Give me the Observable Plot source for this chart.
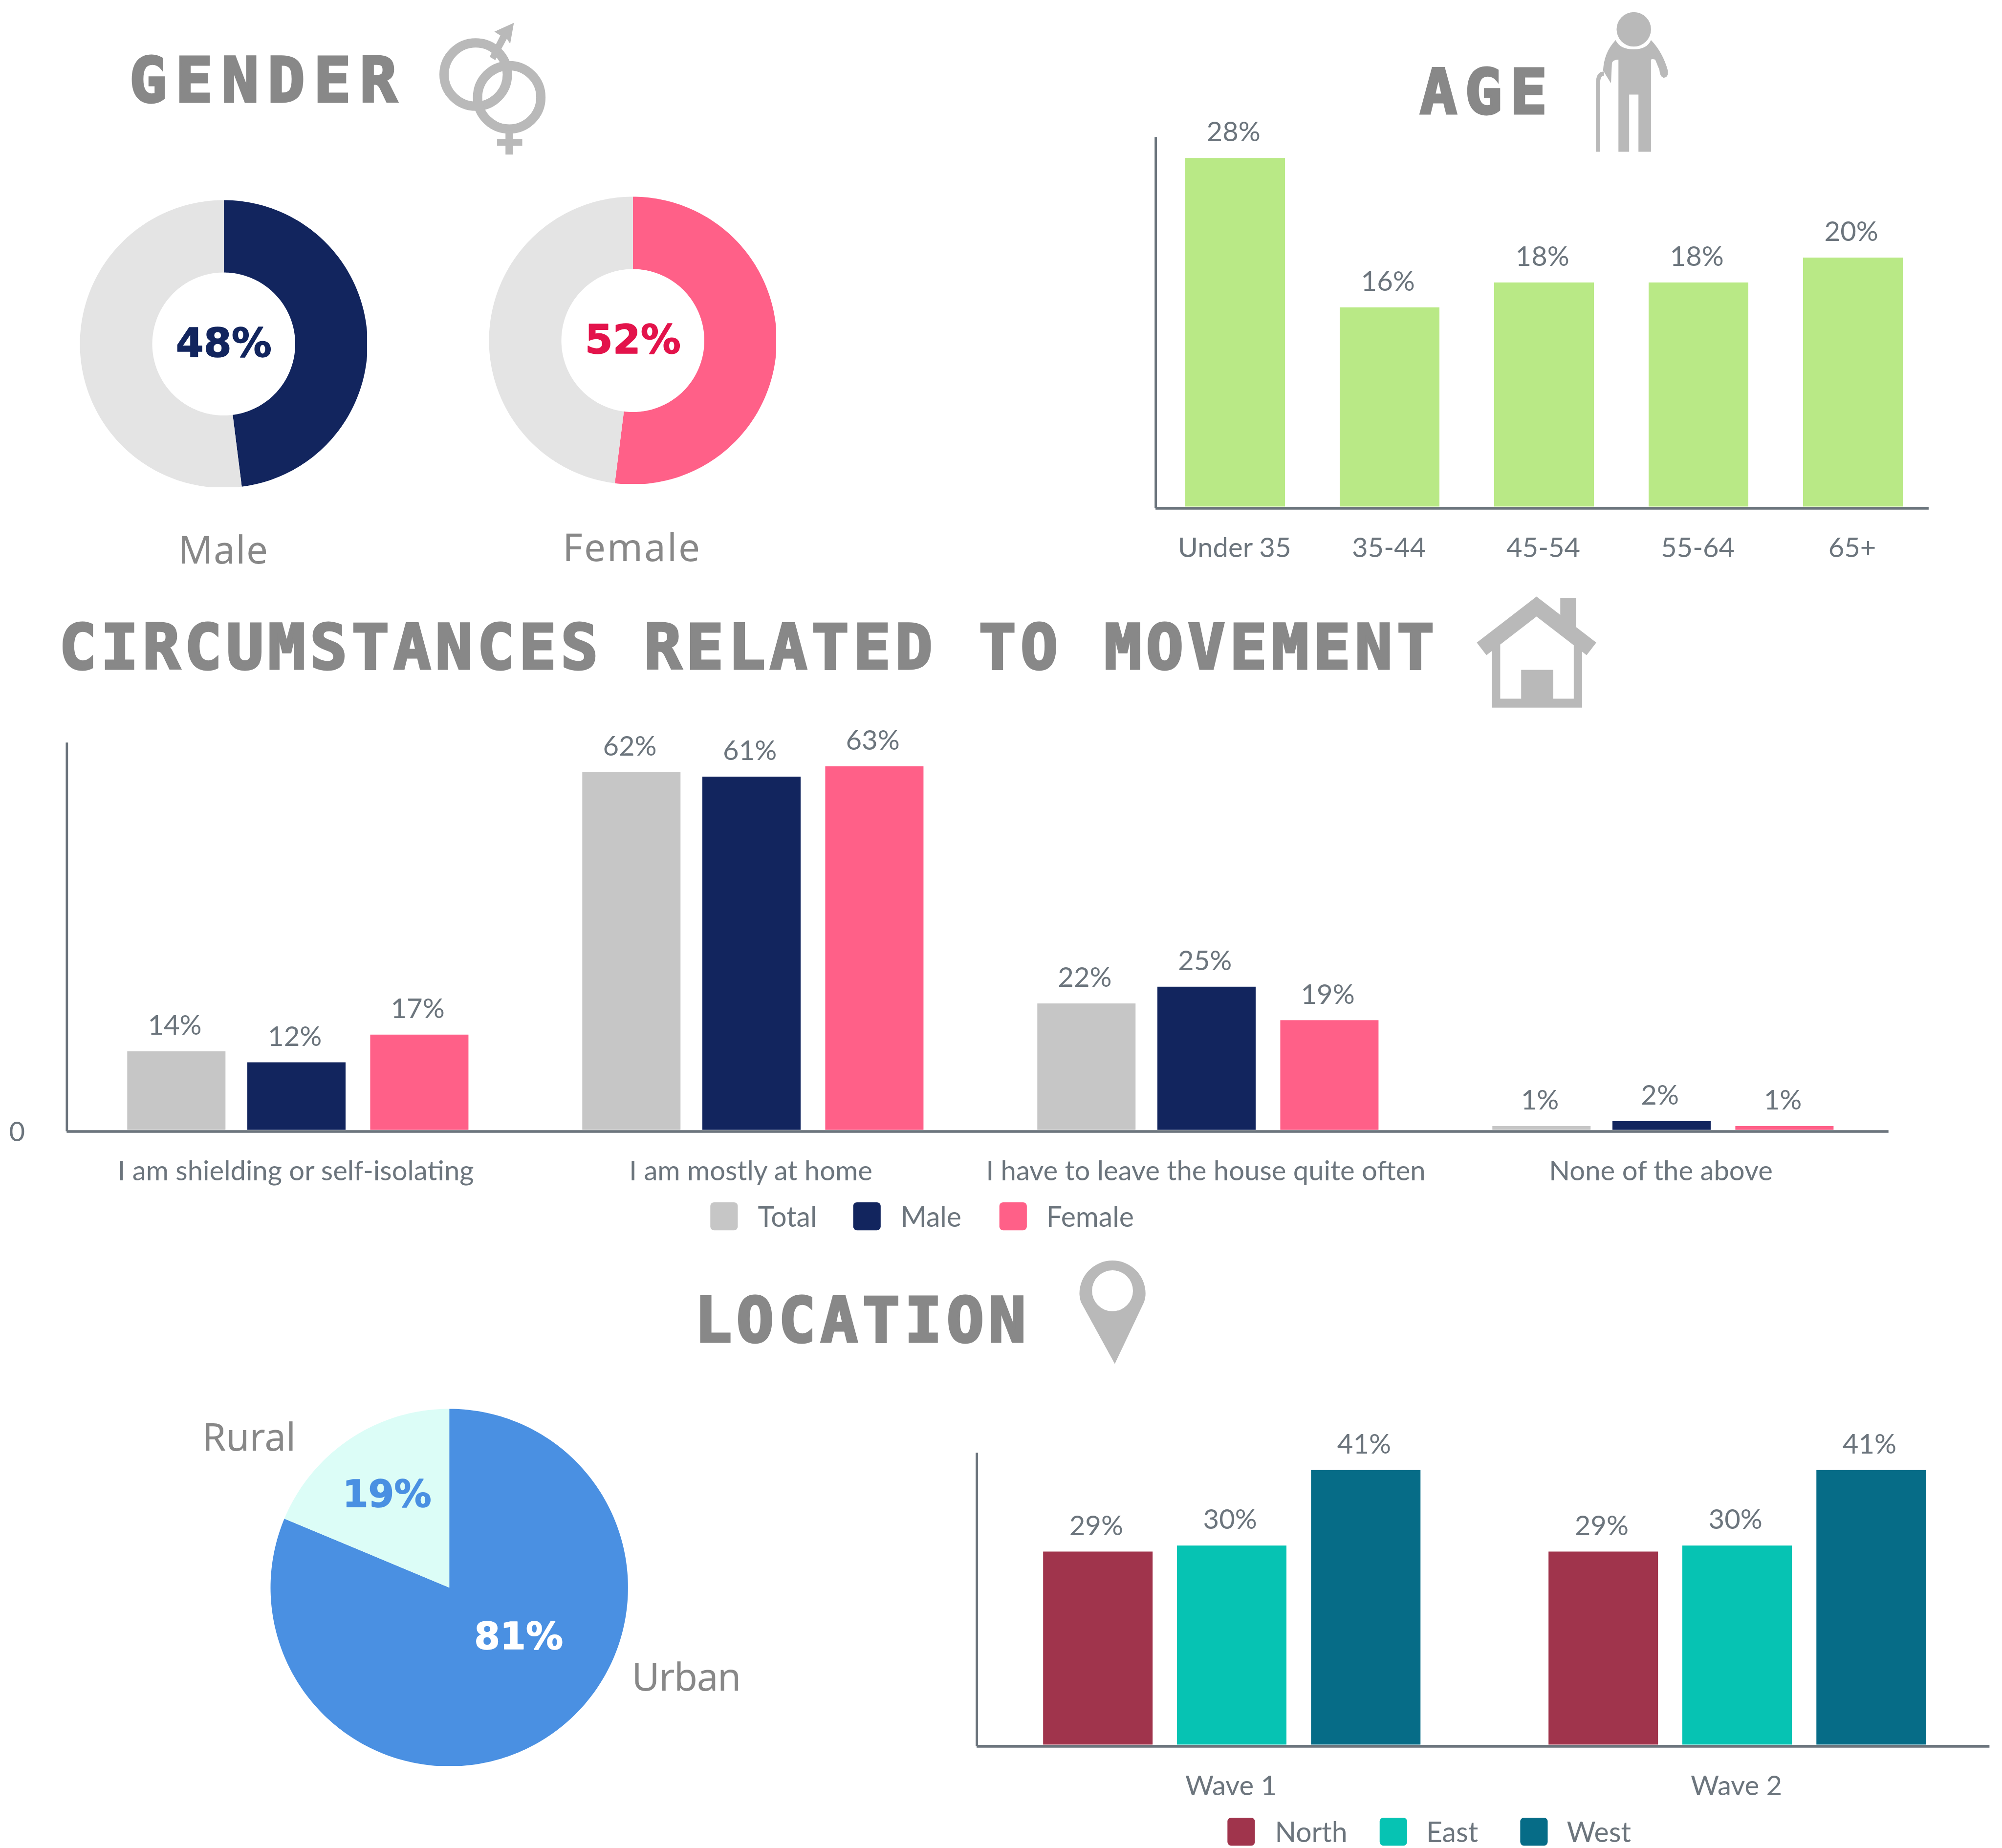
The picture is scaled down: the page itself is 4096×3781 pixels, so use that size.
<!DOCTYPE html>
<html><head><meta charset="utf-8">
<style>
html,body{margin:0;padding:0;background:#fff;width:4096px;height:3781px;overflow:hidden}
#page{position:relative;width:4096px;height:3781px;background:#fff}
#page>div{position:absolute}
#overlay{position:absolute;left:0;top:0}
</style>
<script src="https://cdn.jsdelivr.net/npm/d3@7"></script>
<script src="https://cdn.jsdelivr.net/npm/@observablehq/plot@0.6"></script>
</head><body><div id="page"></div>
<script>
// ---- data ----
const genderNames = ["Male", "Female"];
const genderValues = [48, 52];
const genderColors = ["#12255e", "#ff6088"];
const genderTextColors = ["#12255e", "#e3134b"];
const ageGroups = ["Under 35", "35-44", "45-54", "55-64", "65+"];
const ageValues = [28, 16, 18, 18, 20];
const moveGroups = ["I am shielding or self-isolating", "I am mostly at home", "I have to leave the house quite often", "None of the above"];
const moveSeries = ["Total", "Male", "Female"];
const moveTotal = [13.6, 62, 21.9, 0.65];
const moveMale = [11.7, 61.2, 24.8, 1.5];
const moveFemale = [16.5, 63, 19, 0.65];
const moveColors = ["#c6c6c6", "#12255e", "#ff6088"];
const locationNames = ["Urban", "Rural"];
const locationValues = [81.3, 18.7];
const locationColors = ["#4a90e2", "#dcfdf7"];
const waveGroups = ["Wave 1", "Wave 2"];
const waveSeries = ["North", "East", "West"];
const waveNorth = [28.9, 28.9];
const waveEast = [29.8, 29.8];
const waveWest = [41.1, 41.1];
const waveColors = ["#a0344c", "#06c3b3", "#066c87"];

// ---- layout helpers (reference pixels are scaled to the window) ----
const s = 4096 / 4301, px = v => v * s;
const page = document.getElementById("page");
const AXIS = "#6c757d", TEXT = "#6c757d", TITLE = "#888888", ICON = "#b9b9b9";
const LABEL = 56.2;

function place(node, left, top) {
  const d = document.createElement("div");
  d.style.left = px(left) + "px"; d.style.top = px(top) + "px";
  d.appendChild(node); page.appendChild(d);
}

function barChart({groups, series, columns, colors, offsets, frame, bar, gaps, step, yMax, zero}) {
  const [L, R, T, B] = frame, mL = zero ? 140 : 40, mR = 30, mT = 100, mB = 140;
  const rows = series.flatMap((name, i) => groups.map((g, j) => ({group: g, name, value: columns[i][j], i})));
  const marks = [];
  series.forEach((name, i) => {
    const part = rows.filter(r => r.i === i), dx = px(offsets[i]);
    marks.push(Plot.barY(part, {x: "group", y: "value", fill: "name", dx}));
    marks.push(Plot.text(part, {x: "group", y: "value", text: d => Math.round(d.value) + "%", dx: dx - px(4), dy: -px(36),
      lineAnchor: "bottom", fontSize: LABEL, fill: TEXT}));
  });
  marks.push(Plot.ruleY([0], {stroke: AXIS, strokeWidth: px(6), dy: px(3)}));
  marks.push(Plot.frame({anchor: "left", stroke: AXIS, strokeWidth: px(5)}));
  marks.push(Plot.axisX({tickSize: 0, tickPadding: px(66), fontSize: LABEL, fill: TEXT, label: null, dx: -px(2)}));
  if (zero) marks.push(Plot.axisY({ticks: [0], tickSize: 0, tickPadding: px(90), fontSize: LABEL, fill: TEXT, label: null, dy: px(5)}));
  const plot = Plot.plot({
    width: px(R - L + mL + mR), height: px(B - T + mT + mB),
    marginLeft: px(mL), marginRight: px(mR), marginTop: px(mT), marginBottom: px(mB),
    style: {background: "transparent", fontFamily: "Lato", maxWidth: "none"},
    x: {domain: groups, label: null, paddingInner: 1 - bar / step, paddingOuter: (gaps[0] + gaps[1]) / 2 / step, align: gaps[0] / (gaps[0] + gaps[1])},
    y: {domain: [0, yMax], label: null, axis: zero ? undefined : null},
    color: {domain: series, range: colors},
    marks
  });
  place(plot, L - mL, T - mT);
}

// one wedge of a ring as a closed outline, angles clockwise from twelve o'clock, in percent
function wedge(name, from, to, inner, outer) {
  const pts = [], n = Math.ceil((to - from) * 3);
  for (let k = 0; k <= n; k++) {
    const a = (from + (to - from) * k / n) / 100 * 2 * Math.PI;
    pts.push({name, x: outer * Math.sin(a), y: outer * Math.cos(a)});
  }
  for (let k = n; k >= 0 && inner > 0; k--) {
    const a = (from + (to - from) * k / n) / 100 * 2 * Math.PI;
    pts.push({name, x: inner * Math.sin(a), y: inner * Math.cos(a)});
  }
  if (inner === 0) pts.push({name, x: 0, y: 0});
  return pts;
}

function ringChart({pts, domain, range, cx, cy, r, labels}) {
  const plot = Plot.plot({
    width: px(2 * r), height: px(2 * r), margin: 0,
    style: {background: "transparent", maxWidth: "none"},
    x: {domain: [-1, 1], axis: null}, y: {domain: [-1, 1], axis: null},
    color: {domain, range},
    marks: [
      Plot.line(pts, {x: "x", y: "y", z: "name", fill: "name", stroke: "none"}),
      ...labels.map(l => Plot.text([l.text], {x: () => 0, y: () => 0, text: d => d, dx: px(l.dx), dy: px(l.dy),
        fontFamily: "DejaVu Sans", fontWeight: "bold", fontSize: l.size, fill: l.fill, stroke: l.fill, strokeWidth: 1.5}))
    ]
  });
  place(plot, cx - r, cy - r);
}

// ---- gender ----
const donutGeo = [{cx: 480, cy: 738, r: 309}, {cx: 1359, cy: 731, r: 309}];
genderNames.forEach((name, i) => {
  ringChart({
    pts: [...wedge(name, 0, genderValues[i], 0.497, 1), ...wedge("rest", genderValues[i], 100, 0.497, 1)],
    domain: [name, "rest"], range: [genderColors[i], "#e4e4e4"],
    ...donutGeo[i],
    labels: [{text: genderValues[i] + "%", dx: 0, dy: 0, size: 82, fill: genderTextColors[i]}]
  });
});

// ---- age ----
barChart({groups: ageGroups, series: ["Share"], columns: [ageValues], colors: ["#b9e986"], offsets: [0],
  frame: [2482, 4143, 296, 1088], bar: 215, gaps: [62, 53], step: 332.3, yMax: 792 / 26.75});

// ---- movement ----
barChart({groups: moveGroups, series: moveSeries, columns: [moveTotal, moveMale, moveFemale], colors: moveColors,
  offsets: [-258, 0, 264], frame: [143, 4057, 1597, 2427], bar: 211, gaps: [387, 382], step: 978.3, yMax: 830 / 12.4, zero: true});

// ---- location ----
ringChart({
  pts: [...wedge(locationNames[0], 0, locationValues[0], 0, 1), ...wedge(locationNames[1], locationValues[0], 100, 0, 1)],
  domain: locationNames, range: locationColors, cx: 965, cy: 3410, r: 384,
  labels: [
    {text: Math.round(locationValues[0]) + "%", dx: 149, dy: 107, size: 76, fill: "#ffffff"},
    {text: Math.round(locationValues[1]) + "%", dx: -134, dy: -199, size: 76, fill: locationColors[0]}
  ]
});
barChart({groups: waveGroups, series: waveSeries, columns: [waveNorth, waveEast, waveWest], colors: waveColors,
  offsets: [-287.5, 0, 288], frame: [2098, 4274, 3123, 3748], bar: 235.5, gaps: [430, 424], step: 1086, yMax: 625 / 14.35});

// ---- titles, labels, legends and icons, in reference pixels ----
const svg = d3.create("svg").attr("id", "overlay").attr("width", 4096).attr("height", 3781).attr("viewBox", "0 0 4301 3970");
function title(t, x, w, base) {
  svg.append("text").text(t).attr("x", x).attr("y", base).attr("textLength", w).attr("lengthAdjust", "spacing")
    .attr("font-family", "DejaVu Sans Mono").attr("font-weight", "bold").attr("font-size", 133).attr("fill", TITLE)
    .attr("stroke", TITLE).attr("stroke-width", 5).attr("stroke-linejoin", "miter");
}
title("GENDER", 278, 575, 218);
title("AGE", 3050, 274, 243);
title("CIRCUMSTANCES RELATED TO MOVEMENT", 127, 2954, 1436);
title("LOCATION", 1492, 712, 2882);
function note(t, x, base, spacing) {
  svg.append("text").text(t).attr("x", x).attr("y", base).attr("text-anchor", "middle").attr("letter-spacing", spacing)
    .attr("font-family", "Noto Sans").attr("font-size", 82).attr("fill", TITLE);
}
note(genderNames[0], 480, 1211, 1.5); note(genderNames[1], 1358, 1205, 3.2);
note(locationNames[1], 535, 3116, 0); note(locationNames[0], 1474, 3632, -1.5);
function legend(names, colors, boxes, texts, cy) {
  names.forEach((n, i) => {
    svg.append("rect").attr("x", boxes[i]).attr("y", cy - 30).attr("width", 59).attr("height", 60).attr("rx", 8).attr("fill", colors[i]);
    svg.append("text").text(n).attr("x", texts[i]).attr("y", cy + 23).attr("font-family", "Lato").attr("font-size", 60).attr("fill", TEXT);
  });
}
legend(moveSeries, moveColors, [1526, 1833, 2147], [1628, 1935, 2248], 2613);
legend(waveSeries, waveColors, [2637, 2964, 3266], [2739, 3064, 3366], 3935);

const g = svg.append("g").attr("fill", ICON);
// gender symbols
const ring = (x, y, r, w) => g.append("circle").attr("cx", x).attr("cy", y).attr("r", r).attr("fill", "none").attr("stroke", ICON).attr("stroke-width", w);
ring(1022, 160, 68, 20); ring(1094, 209, 68, 20);
g.append("path").attr("d", "M1052 122L1064 129L1089 83L1096 94L1104 49L1062 68L1075 76Z");
g.append("path").attr("d", "M1086 280H1102V298H1122V313H1102V332H1086V313H1068V298H1086Z");
// person with a stick
g.append("ellipse").attr("cx", 3510).attr("cy", 63).attr("rx", 37).attr("ry", 37);
g.append("path").attr("d", "M3471 86Q3480 106 3510 106Q3538 106 3547 86Q3572 112 3583 151Q3585 167 3574 167Q3566 165 3565 150L3556 128Q3549 126 3547 128V326H3520V203H3500V326H3477V128Q3466 128 3463 135L3461 179L3448 158L3444 151Q3446 112 3471 86Z");
g.append("path").attr("d", "M3433 326V180Q3433 158 3446 158").attr("fill", "none").attr("stroke", ICON).attr("stroke-width", 9);
// house
g.append("path").attr("d", "M3183 1394L3301 1303L3419 1394").attr("fill", "none").attr("stroke", ICON).attr("stroke-width", 34).attr("stroke-miterlimit", 10);
g.append("path").attr("d", "M3352 1284H3386V1350L3352 1325Z");
g.append("path").attr("fill-rule", "evenodd").attr("d", "M3205 1385H3223V1501H3268V1439H3337V1501H3381V1385H3399V1520H3205Z");
// location pin
g.append("path").attr("fill-rule", "evenodd").attr("d", "M2395 2930L2322 2797Q2319 2785 2319 2779A71 71 0 1 1 2461 2779Q2461 2787 2458 2797ZM2346 2773A44 44 0 1 0 2434 2773A44 44 0 1 0 2346 2773Z");
page.appendChild(svg.node());
</script></body></html>
